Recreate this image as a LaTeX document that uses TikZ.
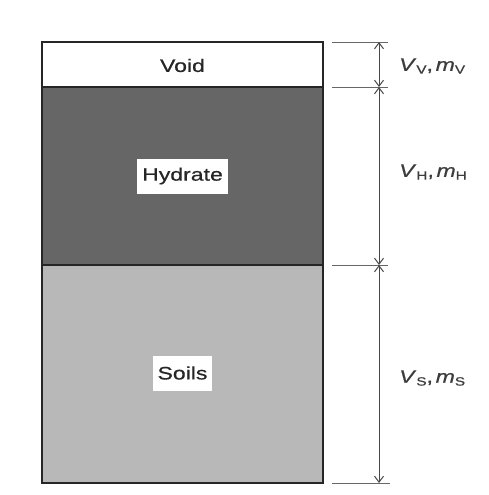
\documentclass[tikz,border=0pt]{standalone}
\usepackage{fontspec}
\setmainfont{Liberation Sans}[FakeStretch=1.28,FakeBold=0.6]
\usetikzlibrary{arrows.meta}
\definecolor{hyd}{gray}{0.40}
\definecolor{soil}{gray}{0.72}
\definecolor{ink}{gray}{0.15}
\newcommand{\lbl}[2]{\textit{V}\raisebox{-0.3ex}{\fontsize{12}{13}\selectfont #1},\hspace{0.15em}\textit{m}\raisebox{-0.3ex}{\fontsize{12}{13}\selectfont #2}}
\begin{document}
\begin{tikzpicture}[x=1pt,y=-1pt,
  layer/.style={draw=ink, line width=1.4pt, minimum width=281pt, anchor=north west, inner sep=0pt, outer sep=0pt},
  txt/.style={text=ink, font=\fontsize{18}{20}\selectfont},
  tag/.style={txt, fill=white, inner xsep=5pt, minimum height=35pt},
  ext/.style={draw=ink!70, line width=0.8pt},
  dim/.style={draw=ink!85, line width=1pt, {Straight Barb[length=6pt,width=9pt]}-{Straight Barb[length=6pt,width=9pt]}},
  dimlbl/.style={txt, anchor=west, text=ink!90, inner sep=0pt}]
\useasboundingbox[fill=white] (0,0) rectangle (489,495);
\node[layer, fill=white, minimum height=45pt] (void) at (42,42) {};
\node[layer, fill=hyd, minimum height=178pt] (hyd) at (42,87) {};
\node[layer, fill=soil, minimum height=218pt] (soil) at (42,265) {};
\node[txt] (tvoid) at ([yshift=-1pt]void.center) {Void};
\node[tag] (thyd) at (hyd.center) {Hydrate};
\node[tag] (tsoil) at ([yshift=1pt]soil.center) {Soils};
% extension lines
\coordinate (e0a) at (332,42); \coordinate (e0b) at (388,42);
\coordinate (e1a) at (332,87); \coordinate (e1b) at (388,87);
\coordinate (e2a) at (332,265); \coordinate (e2b) at (388,265);
\coordinate (e3a) at (332,483); \coordinate (e3b) at (390,483);
\draw[ext] (e0a) -- (e0b);
\draw[ext] (e1a) -- (e1b);
\draw[ext] (e2a) -- (e2b);
\draw[ext] (e3a) -- (e3b);
% dimension lines
\coordinate (d0) at (379,42); \coordinate (d1) at (379,87);
\coordinate (d2) at (379,265); \coordinate (d3) at (379,483);
\draw[dim] (d0) -- (d1);
\draw[dim] (d1) -- (d2);
\draw[dim] (d2) -- (d3);
\node[dimlbl] (lv) at (399,66) {\lbl{V}{V}};
\node[dimlbl] (lh) at (399,172) {\lbl{H}{H}};
\node[dimlbl] (ls) at (399,378) {\lbl{S}{S}};
\end{tikzpicture}
\end{document}
